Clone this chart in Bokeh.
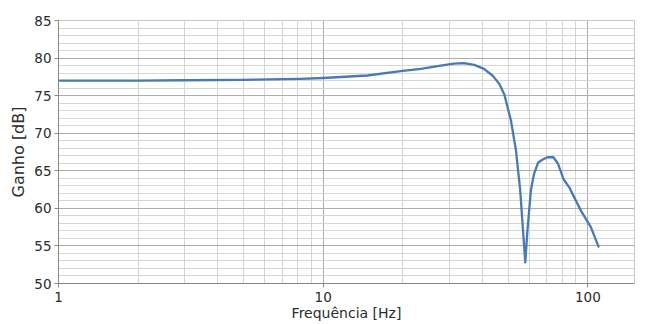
from bokeh.plotting import figure
from bokeh.models import FixedTicker, Range1d
from bokeh.embed import file_html
from bokeh.resources import INLINE

# Data
freq_hz = [1, 2, 3, 5, 8.2, 10, 14.7, 19.6, 23.4, 27.8, 31.2, 34, 37.2, 40.5,
           43.6, 46.2, 48.3, 51.2, 53.5, 55.5, 57.1, 58, 59.1, 60.9, 62.6,
           64.9, 67.5, 70.4, 74.1, 77.2, 80.9, 85, 94.1, 102.6, 109.7]
gain_db = [77.0, 77.0, 77.05, 77.1, 77.24, 77.35, 77.68, 78.25, 78.57, 79.0,
           79.25, 79.32, 79.1, 78.57, 77.68, 76.6, 75.2, 71.7, 67.7, 62.4,
           56.2, 52.8, 57.05, 62.4, 64.6, 66.1, 66.5, 66.8, 66.8, 65.9, 63.9,
           62.8, 59.7, 57.5, 54.9]

x_ticks = [1, 10, 100]
x_minor = [2, 3, 4, 5, 6, 7, 8, 9, 20, 30, 40, 50, 60, 70, 80, 90]
y_ticks = [50, 55, 60, 65, 70, 75, 80, 85]
y_minor = list(range(50, 86))

FONT = "DejaVu Sans"

p = figure(
    x_axis_type="log",
    x_range=Range1d(1, 150),
    y_range=Range1d(50, 85),
    frame_width=576, frame_height=263,
    min_border_left=58, min_border_right=4,
    min_border_top=20, min_border_bottom=40,
    output_backend="svg", toolbar_location=None,
)
p.background_fill_color = "white"
p.border_fill_color = "white"
p.outline_line_color = "#c8c8c8"

p.line(freq_hz, gain_db, line_color="#4a7ab4", line_width=2.3,
       line_join="round", line_cap="round")

# X axis
p.xaxis.ticker = FixedTicker(ticks=x_ticks, minor_ticks=x_minor)
p.xaxis.major_label_overrides = {1: "1", 10: "10", 100: "100"}
p.xaxis.axis_label = "Frequência [Hz]"
p.xaxis.major_tick_out = 4
p.xaxis.major_tick_in = 0
p.xaxis.minor_tick_line_color = None
p.xaxis.major_label_standoff = 4
p.xaxis.axis_label_standoff = 0
p.xaxis.axis_label_text_font_size = "14px"

# Y axis
p.yaxis.ticker = FixedTicker(ticks=y_ticks, minor_ticks=y_minor)
p.yaxis.axis_label = "Ganho [dB]"
p.yaxis.major_tick_out = 4
p.yaxis.major_tick_in = 0
p.yaxis.minor_tick_line_color = None
p.yaxis.major_label_standoff = 3
p.yaxis.axis_label_standoff = 3
p.yaxis.axis_label_text_font_size = "16px"

for ax in (p.xaxis, p.yaxis):
    ax.axis_line_color = "#888888"
    ax.major_tick_line_color = "#888888"
    ax.major_label_text_font = FONT
    ax.major_label_text_font_size = "13.5px"
    ax.major_label_text_color = "#2b2b2b"
    ax.axis_label_text_font = FONT
    ax.axis_label_text_font_style = "normal"
    ax.axis_label_text_color = "#2b2b2b"

for g in (p.xgrid, p.ygrid):
    g.grid_line_color = "#adadad"
    g.grid_line_width = 1
    g.minor_grid_line_color = "#d6d6d6"
    g.minor_grid_line_width = 1

open("out.html", "w").write(file_html(p, INLINE))
